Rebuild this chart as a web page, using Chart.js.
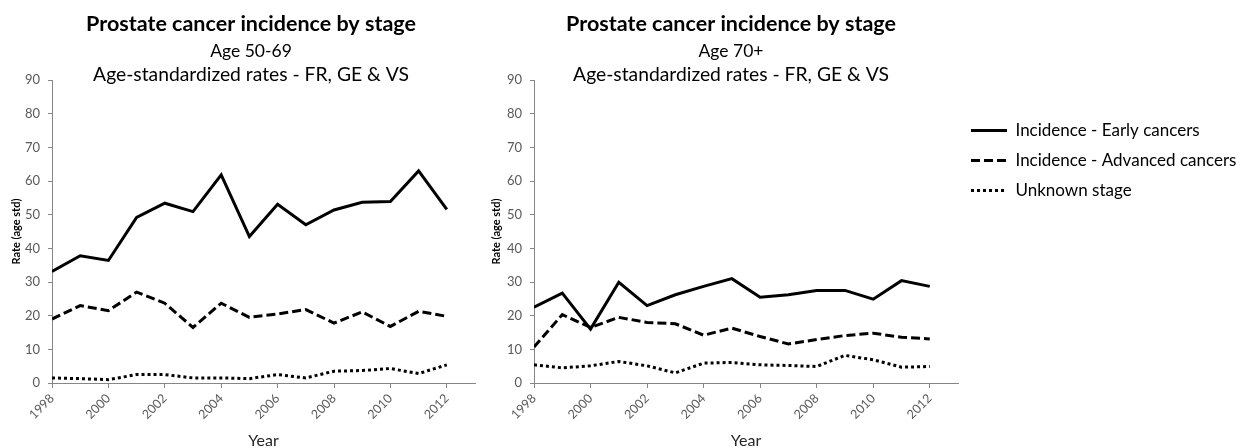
<!DOCTYPE html>
<html>
<head>
<meta charset="utf-8">
<title>Prostate cancer incidence by stage</title>
<script src="https://cdn.jsdelivr.net/npm/chart.js@4.4.1/dist/chart.umd.min.js"></script>
<style>
  body { margin: 0; background: #fff; }
  #left { position: absolute; left: 0; top: 0; }
  #right { position: absolute; left: 480px; top: 0; }
</style>
</head>
<body>
<canvas id="left" width="480" height="448"></canvas>
<canvas id="right" width="769" height="448"></canvas>
<script>
const years = [1998, 1999, 2000, 2001, 2002, 2003, 2004, 2005, 2006, 2007, 2008, 2009, 2010, 2011, 2012];

// Age 50-69
const early5069    = [33.1, 37.8, 36.4, 49.2, 53.4, 50.9, 61.8, 43.5, 53.1, 47.0, 51.4, 53.7, 53.9, 63.0, 51.6];
const advanced5069 = [19.0, 23.0, 21.5, 27.0, 23.7, 16.5, 23.7, 19.5, 20.5, 21.8, 17.8, 21.1, 16.8, 21.3, 19.8];
const unknown5069  = [1.5, 1.3, 1.0, 2.5, 2.5, 1.5, 1.5, 1.3, 2.5, 1.5, 3.5, 3.7, 4.3, 2.8, 5.4];

// Age 70+
const early70    = [22.5, 26.7, 16.0, 29.9, 23.0, 26.2, 28.7, 31.0, 25.5, 26.2, 27.5, 27.5, 24.9, 30.4, 28.7];
const advanced70 = [10.7, 20.3, 16.5, 19.5, 18.0, 17.6, 14.2, 16.3, 13.8, 11.6, 12.9, 14.1, 14.8, 13.6, 13.1];
const unknown70  = [5.4, 4.5, 5.1, 6.4, 5.1, 3.0, 5.9, 6.1, 5.4, 5.2, 4.9, 8.2, 6.9, 4.7, 4.9];

const seriesNames = ['Incidence - Early cancers', 'Incidence - Advanced cancers', 'Unknown stage'];
const titleMain = 'Prostate cancer incidence by stage';
const titleSub = 'Age-standardized rates - FR, GE & VS';

const FONT = 'Lato';
const dashes = [[], [9, 4], [3, 3]];

function points(values) {
    return years.map((yr, i) => ({ x: yr, y: values[i] }));
}

function makeDatasets(series) {
    return series.map((values, i) => ({
        label: seriesNames[i],
        data: points(values),
        borderColor: '#000',
        backgroundColor: '#000',
        borderWidth: 3,
        borderDash: dashes[i],
        pointRadius: 0,
        tension: 0,
        fill: false
    }));
}

// three-line chart title drawn over the top of the plot, like the Excel original
const titleLines = {
    id: 'titleLines',
    afterDraw(chart, args, opts) {
        const ctx = chart.ctx;
        ctx.save();
        ctx.fillStyle = '#000';
        ctx.textAlign = 'center';
        ctx.textBaseline = 'alphabetic';
        opts.lines.forEach(l => {
            ctx.font = l.font;
            ctx.fillText(l.text, l.x, l.y);
        });
        ctx.restore();
    }
};

function makeScales(yWidth) {
    return {
        x: {
            type: 'linear',
            min: 1998,
            max: 2013,
            afterFit: s => { s.height = 65; },
            border: { color: '#868686' },
            grid: { drawOnChartArea: false, color: '#868686', tickLength: 5 },
            ticks: {
                stepSize: 2,
                includeBounds: false,
                autoSkip: false,
                minRotation: 45,
                maxRotation: 45,
                color: '#595959',
                font: { family: FONT, size: 12.5 },
                callback: v => String(v)
            },
            title: {
                display: true,
                text: 'Year',
                color: '#262626',
                font: { family: FONT, size: 16 },
                padding: { top: 0, bottom: -2 }
            }
        },
        y: {
            min: 0,
            max: 90,
            afterFit: s => { s.width = yWidth; },
            border: { color: '#868686' },
            grid: { drawOnChartArea: false, color: '#868686', tickLength: 4 },
            ticks: {
                stepSize: 10,
                color: '#595959',
                font: { family: FONT, size: 13 },
                padding: 8
            },
            title: {
                display: true,
                text: 'Rate (age std)',
                color: '#000',
                font: { family: FONT, size: 11, weight: 'bold' },
                padding: { top: 10, bottom: 0 }
            }
        }
    };
}

function titleSet(cx, age) {
    return [
        { text: titleMain, x: cx, y: 31, font: `bold 21.5px ${FONT}` },
        { text: age, x: cx, y: 57, font: `17.5px ${FONT}` },
        { text: titleSub, x: cx, y: 81, font: `19.3px ${FONT}` }
    ];
}

Chart.defaults.font.family = FONT;

new Chart(document.getElementById('left'), {
    type: 'line',
    data: { datasets: makeDatasets([early5069, advanced5069, unknown5069]) },
    options: {
        responsive: false,
        animation: false,
        layout: { padding: { top: 80, right: 5, left: 0, bottom: 0 } },
        scales: makeScales(52),
        plugins: {
            legend: { display: false },
            tooltip: { enabled: false },
            titleLines: { lines: titleSet(251, 'Age 50-69') }
        }
    },
    plugins: [titleLines]
});

// size the right padding so the plot ends where the legend starts
const LEGEND_SIZE = 17;
const mctx = document.createElement('canvas').getContext('2d');
mctx.font = `${LEGEND_SIZE}px ${FONT}`;
const widest = Math.max(...seriesNames.map(n => mctx.measureText(n).width));
const legendWidth = 14 + 36 + LEGEND_SIZE / 2 + widest + 10;
const padRight = Math.max(0, 769 - 477 - legendWidth);

new Chart(document.getElementById('right'), {
    type: 'line',
    data: { datasets: makeDatasets([early70, advanced70, unknown70]) },
    options: {
        responsive: false,
        animation: false,
        layout: { padding: { top: 80, right: padRight, left: 0, bottom: 0 } },
        scales: makeScales(54),
        plugins: {
            tooltip: { enabled: false },
            legend: {
                position: 'right',
                align: 'start',
                maxWidth: 400,
                title: { display: true, text: '', font: { size: 1, lineHeight: 1 }, padding: { top: 28, bottom: 0 } },
                labels: {
                    usePointStyle: true,
                    pointStyle: 'line',
                    pointStyleWidth: 36,
                    boxHeight: LEGEND_SIZE,
                    padding: 13,
                    color: '#000',
                    font: { family: FONT, size: LEGEND_SIZE },
                    generateLabels: chart => Chart.defaults.plugins.legend.labels.generateLabels(chart)
                        .map((item, i) => Object.assign(item, {
                            lineDash: dashes[i],
                            lineWidth: 3,
                            strokeStyle: '#000',
                            fillStyle: '#000'
                        }))
                }
            },
            titleLines: { lines: titleSet(251, 'Age 70+') }
        }
    },
    plugins: [titleLines]
});
</script>
</body>
</html>
